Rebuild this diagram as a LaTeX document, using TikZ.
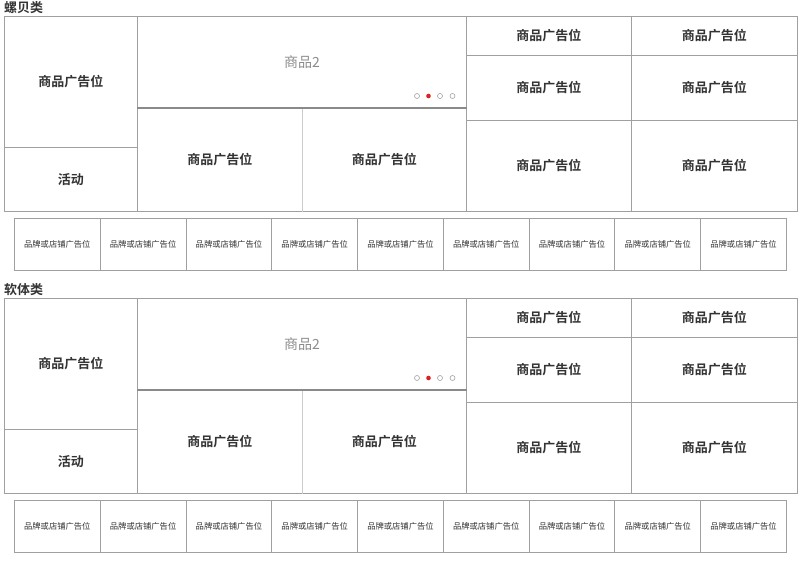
\documentclass[tikz,border=0pt]{standalone}
\usepackage{fontspec}
\newfontfamily\cjk{Noto Sans CJK SC}
\newfontfamily\cjkb{Noto Sans CJK SC Bold}
\definecolor{linegray}{HTML}{A0A0A0}
\definecolor{lightline}{HTML}{CCCCCC}
\definecolor{darkline}{HTML}{8A8A8A}
\definecolor{txt}{HTML}{333333}
\definecolor{cartxt}{HTML}{8C8C8C}
\definecolor{dotred}{HTML}{E02020}
\tikzset{
  cell/.style={draw=linegray, line width=0.9pt, inner sep=0pt, anchor=north west, text=txt},
  bigtxt/.style={font=\cjkb\fontsize{13}{13}\selectfont},
  brandcell/.style={cell, minimum width=85.78pt, minimum height=52pt, font=\cjk\fontsize{8.3}{9}\selectfont},
  heading/.style={anchor=west, inner sep=0pt, text=txt, font=\cjkb\fontsize{13}{13}\selectfont},
  dotempty/.style={circle, draw=linegray, line width=0.6pt, minimum size=5pt, inner sep=0pt},
  dotfull/.style={circle, fill=dotred, minimum size=4.6pt, inner sep=0pt}
}
\newcommand\drawblock[3]{%
  \begin{scope}[yshift=-#1pt]
    \node[heading] (#3h) at (4,8) {#2};
    \node[cell, bigtxt, minimum width=133pt, minimum height=131pt] (#3l) at (4,16) {商品广告位};
    \node[cell, bigtxt, minimum width=133pt, minimum height=64pt] (#3a) at (4,147) {活动};
    \node[cell, minimum width=329pt, minimum height=91pt, text=cartxt, font=\cjk\fontsize{14}{14}\selectfont] (#3c) at (137,16) {商品2};
    \node[cell, bigtxt, minimum width=165pt, minimum height=104pt] (#3m1) at (137,107) {商品广告位};
    \node[cell, bigtxt, minimum width=164pt, minimum height=104pt] (#3m2) at (302,107) {商品广告位};
    \node[cell, bigtxt, minimum width=165pt, minimum height=39pt] (#3r11) at (466,16) {商品广告位};
    \node[cell, bigtxt, minimum width=166pt, minimum height=39pt] (#3r12) at (631,16) {商品广告位};
    \node[cell, bigtxt, minimum width=165pt, minimum height=65pt] (#3r21) at (466,55) {商品广告位};
    \node[cell, bigtxt, minimum width=166pt, minimum height=65pt] (#3r22) at (631,55) {商品广告位};
    \node[cell, bigtxt, minimum width=165pt, minimum height=91pt] (#3r31) at (466,120) {商品广告位};
    \node[cell, bigtxt, minimum width=166pt, minimum height=91pt] (#3r32) at (631,120) {商品广告位};
    \draw[lightline, line width=1pt] (#3m1.north east) -- (#3m1.south east);
    \draw[darkline, line width=1.6pt] (#3c.south west) -- (#3c.south east);
    \node[dotempty] (#3d1) at (417,96) {};
    \node[dotfull] (#3d2) at (428.5,96) {};
    \node[dotempty] (#3d3) at (440,96) {};
    \node[dotempty] (#3d4) at (452.5,96) {};
    \foreach \i in {0,...,8} {
      \node[brandcell] (#3b\i) at ({14+85.78*\i},218) {品牌或店铺广告位};
    }
  \end{scope}
}
\begin{document}
\begin{tikzpicture}[x=1pt,y=-1pt]
  \useasboundingbox (0,0) rectangle (802,560);
  \drawblock{0}{螺贝类}{s}
  \drawblock{282}{软体类}{t}
\end{tikzpicture}
\end{document}
